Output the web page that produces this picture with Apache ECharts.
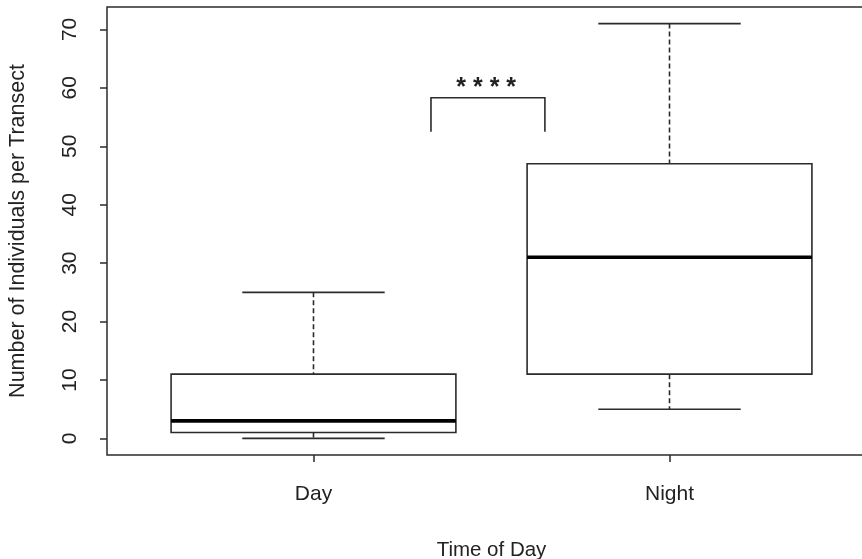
<!DOCTYPE html>
<html>
<head>
<meta charset="utf-8">
<script src="https://cdn.jsdelivr.net/npm/echarts@6/dist/echarts.min.js"></script>
<style>
html,body{margin:0;padding:0;background:#fff;}
#chart{width:862px;height:559px;}
</style>
</head>
<body>
<div id="chart"></div>
<script>
// ---- data ----
var categories = ['Day', 'Night'];
var lowWhisker = [0, 5];
var lowerQuartile = [1, 11];
var medianValue = [3, 31];
var upperQuartile = [11, 47];
var highWhisker = [25, 71];
var yTickValues = [0, 10, 20, 30, 40, 50, 60, 70];
var xTickValues = [1, 2];
var bracketX = [1.33, 1.65];
var bracketY = [52.5, 58.3];
var starsLabel = '* * * *';
var starsPos = [1.485, 60.0];

var boxData = categories.map(function (c, i) {
  return [i + 1, lowWhisker[i], lowerQuartile[i], medianValue[i], upperQuartile[i], highWhisker[i]];
});

var lineColor = '#2b2b2b';
var textColor = '#222';
var fontFamily = '"Liberation Sans", Arial, sans-serif';

var chart = echarts.init(document.getElementById('chart'), null, {renderer: 'canvas'});

var option = {
  backgroundColor: '#fff',
  animation: false,
  grid: {
    left: 107, top: 7, width: 769, height: 448,
    outerBoundsMode: 'none', containLabel: false,
    show: true, borderColor: lineColor, borderWidth: 1.5, backgroundColor: 'transparent'
  },
  xAxis: {
    type: 'value', min: 0.42, max: 2.58,
    name: 'Time of Day', nameLocation: 'middle', nameGap: 85,
    nameTextStyle: {fontFamily: fontFamily, fontSize: 20.5, color: textColor},
    axisLine: {show: false, onZero: false},
    splitLine: {show: false},
    axisTick: {show: true, length: 7, customValues: xTickValues, lineStyle: {color: lineColor, width: 1.5}},
    axisLabel: {
      customValues: xTickValues, margin: 29,
      fontFamily: fontFamily, fontSize: 21, color: textColor,
      formatter: function (v) { return categories[Math.round(v) - 1] || ''; }
    }
  },
  yAxis: {
    type: 'value', min: -2.84, max: 73.84,
    name: 'Number of Individuals per Transect', nameLocation: 'middle', nameGap: 78,
    nameTextStyle: {fontFamily: fontFamily, fontSize: 21.5, color: textColor},
    axisLine: {show: false, onZero: false},
    splitLine: {show: false},
    axisTick: {show: true, length: 7, customValues: yTickValues, lineStyle: {color: lineColor, width: 1.5}},
    axisLabel: {
      customValues: yTickValues, rotate: 90, margin: 26,
      fontFamily: fontFamily, fontSize: 21, color: textColor
    }
  },
  series: [
    {
      type: 'custom',
      data: boxData,
      encode: {x: 0, y: [1, 2, 3, 4, 5]},
      renderItem: function (params, api) {
        var x = api.value(0);
        var lo = api.coord([x, api.value(1)]);
        var q1 = api.coord([x, api.value(2)]);
        var md = api.coord([x, api.value(3)]);
        var q3 = api.coord([x, api.value(4)]);
        var hi = api.coord([x, api.value(5)]);
        var bl = api.coord([x - 0.4, 0])[0];
        var br = api.coord([x + 0.4, 0])[0];
        var cl = api.coord([x - 0.2, 0])[0];
        var cr = api.coord([x + 0.2, 0])[0];
        var cx = lo[0];
        var solid = {stroke: lineColor, lineWidth: 1.6, fill: null};
        var dashed = {stroke: lineColor, lineWidth: 1.6, lineDash: [5, 3], fill: null};
        return {
          type: 'group',
          children: [
            {type: 'line', shape: {x1: cx, y1: hi[1], x2: cx, y2: q3[1]}, style: dashed},
            {type: 'line', shape: {x1: cx, y1: q1[1], x2: cx, y2: lo[1]}, style: dashed},
            {type: 'line', shape: {x1: cl, y1: hi[1], x2: cr, y2: hi[1]}, style: solid},
            {type: 'line', shape: {x1: cl, y1: lo[1], x2: cr, y2: lo[1]}, style: solid},
            {type: 'rect', shape: {x: bl, y: q3[1], width: br - bl, height: q1[1] - q3[1]}, style: {stroke: lineColor, lineWidth: 1.6, fill: '#fff'}},
            {type: 'line', shape: {x1: bl, y1: md[1], x2: br, y2: md[1]}, style: {stroke: '#000', lineWidth: 3.6}}
          ]
        };
      }
    },
    {
      type: 'custom',
      data: [[bracketX[0], bracketX[1], bracketY[0], bracketY[1], starsPos[0], starsPos[1]]],
      renderItem: function (params, api) {
        var p1 = api.coord([api.value(0), api.value(2)]);
        var p2 = api.coord([api.value(0), api.value(3)]);
        var p3 = api.coord([api.value(1), api.value(3)]);
        var p4 = api.coord([api.value(1), api.value(2)]);
        var s = api.coord([api.value(4), api.value(5)]);
        return {
          type: 'group',
          children: [
            {type: 'polyline', shape: {points: [p1, p2, p3, p4]}, style: {stroke: lineColor, lineWidth: 1.6, fill: null}},
            {type: 'text', x: s[0], y: s[1], style: {text: starsLabel, fontFamily: fontFamily, fontSize: 25, fontWeight: 'bold', fill: textColor, align: 'center', verticalAlign: 'middle'}}
          ]
        };
      }
    }
  ]
};
chart.setOption(option);
</script>
</body>
</html>
